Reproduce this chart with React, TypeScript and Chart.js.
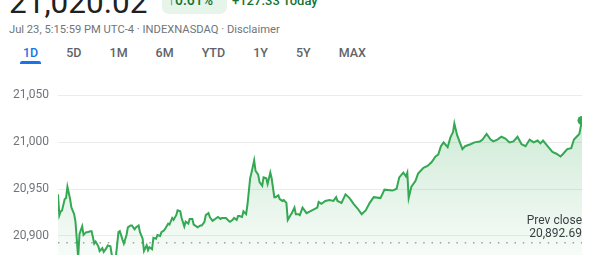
import React, { useEffect, useRef } from "react";
import { Chart, registerables } from "chart.js";

Chart.register(...registerables);

// ---- data ----
const PRICE = "21,020.02";
const CHANGE_PCT = "0.61%";
const CHANGE_ABS = "+127.33 Today";
const SUBTITLE = "Jul 23, 5:15:59 PM UTC-4 · INDEXNASDAQ · Disclaimer";
const RANGES = ["1D", "5D", "1M", "6M", "YTD", "1Y", "5Y", "MAX"];
const PREV_CLOSE = 20892.69;
const Y_TICKS = [20850, 20900, 20950, 21000, 21050];

// minutes since 9:30 open
const MINUTES = [
  0, 1, 2, 3, 5, 6, 7, 9, 10, 12, 13, 15, 16, 18, 19, 21, 22, 24, 25, 27, 28, 30, 31, 33, 34, 36, 37, 39, 40, 42, 43, 45, 46,
  48, 49, 51, 52, 54, 55, 57, 58, 60, 61, 63, 64, 66, 67, 68, 70, 71, 73, 74, 76, 77, 79, 80, 82, 83, 85, 86, 88, 89, 91,
  92, 94, 95, 97, 98, 100, 101, 103, 104, 106, 107, 109, 110, 112, 113, 115, 116, 118, 119, 121, 122, 124, 125, 127, 128,
  130, 131, 133, 134, 135, 137, 138, 140, 141, 143, 144, 146, 147, 149, 150, 152, 153, 155, 156, 158, 159, 161, 162, 164,
  165, 167, 168, 170, 171, 173, 174, 176, 177, 179, 180, 182, 185, 189, 193, 194, 196, 199, 202, 205, 207, 208, 211, 214,
  217, 220, 223, 226, 229, 232, 235, 240, 243, 249, 252, 254, 257, 259, 260, 261, 263, 266, 268, 272, 275, 278, 281, 283,
  285, 287, 290, 292, 294, 295, 297, 301, 303, 307, 310, 314, 316, 319, 322, 324, 327, 330, 333, 336, 339, 342, 345, 348,
  351, 354, 357, 359, 361, 365, 368, 371, 374, 376, 379, 382, 384, 386, 388, 390,
];
const PRICES = [
  20944.3, 20922.1, 20926.2, 20927.2, 20939.3, 20940.3, 20952.4, 20939.3, 20930.2, 20923.2, 20915.1, 20876.8, 20902.0,
  20910.1, 20901.0, 20904.0, 20904.0, 20905.0, 20905.0, 20891.9, 20893.9, 20888.9, 20883.9, 20886.9, 20882.9, 20886.9,
  20889.9, 20888.9, 20879.9, 20874.8, 20876.8, 20904.0, 20905.0, 20896.0, 20891.9, 20901.0, 20909.1, 20911.1, 20911.1,
  20907.0, 20909.1, 20911.1, 20904.0, 20897.0, 20883.9, 20889.9, 20884.9, 20887.9, 20885.9, 20898.0, 20897.0, 20901.0,
  20900.0, 20904.0, 20906.0, 20908.1, 20913.1, 20912.1, 20919.1, 20917.1, 20922.1, 20927.2, 20926.2, 20919.1, 20910.1,
  20915.1, 20913.1, 20918.1, 20918.1, 20912.1, 20910.1, 20909.1, 20911.1, 20911.1, 20915.1, 20922.1, 20924.2, 20920.1,
  20916.1, 20917.1, 20919.1, 20920.1, 20918.1, 20919.1, 20919.1, 20919.1, 20916.1, 20915.1, 20917.1, 20919.1, 20917.1,
  20921.1, 20921.1, 20920.1, 20926.2, 20923.2, 20933.2, 20961.4, 20967.4, 20980.5, 20969.5, 20965.4, 20957.4, 20953.4,
  20962.4, 20961.4, 20955.4, 20967.4, 20961.4, 20941.3, 20941.3, 20943.3, 20939.3, 20937.3, 20938.3, 20935.2, 20917.1,
  20922.1, 20924.2, 20930.2, 20923.2, 20923.2, 20922.1, 20930.2, 20924.2, 20927.2, 20930.2, 20936.2, 20934.2, 20937.3,
  20938.3, 20937.3, 20941.3, 20937.3, 20935.2, 20944.3, 20940.3, 20934.2, 20929.2, 20923.2, 20927.2, 20935.2, 20941.3,
  20940.3, 20949.3, 20948.3, 20950.3, 20962.4, 20967.4, 20963.4, 20967.4, 20940.3, 20952.4, 20958.4, 20966.4, 20972.5,
  20974.5, 20978.5, 20984.6, 20986.6, 20995.6, 20999.7, 20994.6, 21004.7, 21010.7, 21019.8, 21007.7, 20992.6, 20995.6,
  20997.7, 20999.7, 21000.7, 21002.7, 21008.7, 21002.7, 21000.7, 21002.7, 21005.7, 21003.7, 20999.7, 21000.7, 21005.7,
  20997.7, 20995.6, 21002.7, 20999.7, 21001.7, 20998.7, 21001.7, 20994.6, 20989.6, 20987.6, 20984.6, 20987.6, 20992.6,
  20993.6, 21002.7, 21005.7, 21008.7, 21023.0,
];

const GREEN = "#34a853";
const FONT = "Roboto, Arial, sans-serif";

const prevClosePlugin = {
  id: "prevCloseLabel",
  afterDatasetsDraw(chart: any) {
    const { ctx, chartArea, scales } = chart;
    const y = scales.y.getPixelForValue(PREV_CLOSE);
    ctx.save();
    ctx.font = `12px ${FONT}`;
    ctx.fillStyle = "#3c4043";
    ctx.textAlign = "right";
    ctx.textBaseline = "alphabetic";
    const x = chartArea.right;
    ctx.fillText("Prev close", x, y - 18.5);
    ctx.fillText(PREV_CLOSE.toLocaleString("en-US", { minimumFractionDigits: 2 }), x, y - 6);
    ctx.restore();
  },
};

export default function App() {
  const canvasRef = useRef<HTMLCanvasElement>(null);

  useEffect(() => {
    const canvas = canvasRef.current!;
    const last = PRICES.length - 1;
    const chart = new Chart(canvas, {
      type: "line",
      data: {
        datasets: [
          {
            data: MINUTES.map((m, i) => ({ x: m, y: PRICES[i] })),
            borderColor: GREEN,
            borderWidth: 2,
            tension: 0,
            fill: "start",
            backgroundColor: (c: any) => {
              const ca = c.chart.chartArea;
              if (!ca) return "rgba(52,168,83,0.15)";
              const g = c.chart.ctx.createLinearGradient(0, ca.top, 0, ca.bottom);
              g.addColorStop(0, "rgba(52,168,83,0.27)");
              g.addColorStop(1, "rgba(52,168,83,0.0)");
              return g;
            },
            pointRadius: (c: any) => (c.dataIndex === last ? 4.5 : 0),
            pointBackgroundColor: GREEN,
            pointBorderWidth: 0,
            order: 1,
          },
          {
            data: [
              { x: 0, y: PREV_CLOSE },
              { x: 390, y: PREV_CLOSE },
            ],
            borderColor: "#a0a4a8",
            borderWidth: 1.5,
            borderDash: [1.5, 6.8],
            pointRadius: 0,
            fill: false,
            order: 2,
          },
        ],
      },
      options: {
        responsive: false,
        animation: false,
        events: [],
        layout: { padding: { top: 10, bottom: 12.4, left: 0, right: 18 } },
        plugins: { legend: { display: false }, tooltip: { enabled: false } },
        scales: {
          x: { type: "linear", min: 0, max: 390, display: false },
          y: {
            min: Y_TICKS[0],
            max: Y_TICKS[Y_TICKS.length - 1],
            afterFit: (s: any) => {
              s.width = 58;
            },
            afterBuildTicks: (s: any) => {
              s.ticks = Y_TICKS.map((v) => ({ value: v }));
            },
            border: { display: false },
            grid: { color: "#ececec", lineWidth: 1, drawTicks: false },
            ticks: {
              padding: 9,
              color: "#70757a",
              font: { family: FONT, size: 12 },
              callback: (v: any) => Number(v).toLocaleString("en-US"),
            },
          },
        },
      },
      plugins: [prevClosePlugin],
    });
    return () => chart.destroy();
  }, []);

  return (
    <div
      style={{
        position: "fixed",
        left: 0,
        top: 0,
        width: 600,
        height: 255,
        overflow: "hidden",
        background: "#fff",
        fontFamily: FONT,
      }}
    >
      <div
        style={{
          position: "absolute",
          left: 9,
          top: -13,
          fontSize: 31.5,
          lineHeight: "32px",
          color: "#202124",
          whiteSpace: "nowrap",
        }}
      >
        {PRICE}
      </div>
      <div
        style={{
          position: "absolute",
          left: 162,
          top: -12,
          width: 65,
          height: 26,
          borderRadius: 7,
          background: "#e6f4ea",
        }}
      />
      <div
        style={{
          position: "absolute",
          left: 168,
          top: -7,
          fontSize: 14,
          lineHeight: "14px",
          fontWeight: 500,
          color: "#137333",
          whiteSpace: "nowrap",
        }}
      >
        {"↑" + CHANGE_PCT}
      </div>
      <div
        style={{
          position: "absolute",
          left: 232,
          top: -6,
          fontSize: 13,
          lineHeight: "13px",
          fontWeight: 500,
          color: "#137333",
          whiteSpace: "nowrap",
        }}
      >
        {CHANGE_ABS}
      </div>
      <div
        style={{
          position: "absolute",
          left: 9,
          top: 23.5,
          fontSize: 11.2,
          lineHeight: "12px",
          color: "#70757a",
          whiteSpace: "nowrap",
        }}
      >
        {SUBTITLE}
      </div>
      <div
        style={{
          position: "absolute",
          left: 23,
          top: 46,
          display: "flex",
          gap: 28,
          fontSize: 12.5,
          lineHeight: "13px",
          fontWeight: 500,
          whiteSpace: "nowrap",
        }}
      >
        {RANGES.map((r, i) => (
          <span key={r} style={{ color: i === 0 ? "#1a73e8" : "#5f6368" }}>
            {r}
          </span>
        ))}
      </div>
      <div
        style={{
          position: "absolute",
          left: 20,
          top: 61,
          width: 21,
          height: 2.5,
          borderRadius: "2px 2px 0 0",
          background: "#1a73e8",
        }}
      />
      <div style={{ position: "absolute", left: 0, top: 79, width: 600, height: 220 }}>
        <canvas ref={canvasRef} width={600} height={220} style={{ width: 600, height: 220, display: "block" }} />
      </div>
    </div>
  );
}
